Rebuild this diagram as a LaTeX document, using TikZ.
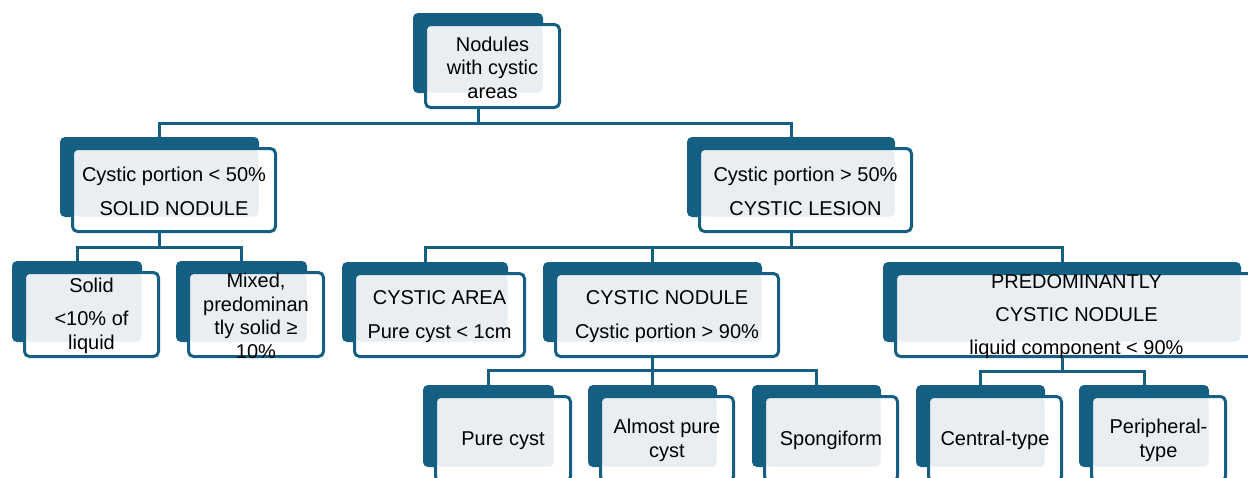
\documentclass[tikz,border=0pt]{standalone}
\usepackage{fontspec}
\setmainfont{Liberation Sans}
\usetikzlibrary{calc}
\definecolor{teal1}{HTML}{156082}
\definecolor{tint1}{HTML}{E8EEF2}
\tikzset{
  backbox/.style={fill=teal1, rounded corners=2.5pt, inner sep=0pt},
  frontbox/.style={draw=teal1, line width=1.5pt, fill=white, rounded corners=2.5pt, inner sep=0pt,
    path picture={\fill[tint1, rounded corners=2pt] ([shift={(0.5pt,-0.5pt)}]path picture bounding box.north west) rectangle ([shift={(-8.5pt,7.5pt)}]path picture bounding box.south east);}},
  boxtext/.style={align=center, inner sep=0pt, yshift=-0.75pt, font=\fontsize{10pt}{11.75pt}\selectfont},
  link/.style={draw=teal1, line width=1.5pt}
}
% back block, framed front block, text
\def\tealbox(#1)(#2,#3)(#4,#5)#6{%
  \node[backbox, minimum width=#4*0.5pt, minimum height=#5*0.5pt] (#1B) at (#2,#3) {};
  \node[frontbox, minimum width=#4*0.5pt+2pt, minimum height=#5*0.5pt+1.5pt] (#1) at ($(#1B)+(14.5,13)$) {};
  \node[boxtext] (#1T) at (#1) {#6};
}

\begin{document}
\begin{tikzpicture}[x=0.5pt, y=-0.5pt]
		\useasboundingbox (0,0) rectangle (1248,477);
		%%%%% BOXES %%%%%
		\tealbox(root)(478,53)(130,80){Nodules\\with cystic\\areas}
		
		\tealbox(solidnod)(159.5,177)(199,80){Cystic portion < 50\%\\[5pt]SOLID NODULE}
		\tealbox(cysticles)(791,177)(208,80){Cystic portion > 50\%\\[5pt]CYSTIC LESION}
		
		\tealbox(solid)(77,301.5)(130,81){Solid\\[4.75pt]<10\% of\\liquid}
		\tealbox(mixed)(241.5,301.5)(131,81){Mixed,\\predominan\\tly solid ≥\\10\%}
		\tealbox(area)(425,302)(166,80){CYSTIC AREA\\[5pt]Pure cyst < 1cm}
		\tealbox(cnod)(652.5,302)(219,80){CYSTIC NODULE\\[5pt]Cystic portion > 90\%}
		\tealbox(pcnod)(1062,302)(358,80){PREDOMINANTLY\\[4.75pt]CYSTIC NODULE\\[4.5pt]liquid component < 90\%}
		
		\tealbox(pure)(488.5,426)(131,82){Pure cyst}
		\tealbox(almost)(652.5,426)(129,82){Almost pure\\cyst}
		\tealbox(spongi)(816.5,426)(129,82){Spongiform}
		\tealbox(central)(980.5,426)(129,82){Central-type}
		\tealbox(periph)(1144,426)(130,82){Peripheral-\\type}
		
		%%%%% LINKS %%%%%
		\draw[link] (rootB |- root.south) -- ++(0,14.5) -| (solidnodB.north);
		\draw[link] (rootB |- root.south) -- ++(0,14.5) -| (cysticlesB.north);
		
		\draw[link] (solidnodB |- solidnod.south) -- ++(0,14) -| (solidB.north);
		\draw[link] (solidnodB |- solidnod.south) -- ++(0,14) -| (mixedB.north);
		
		\draw[link] (cysticlesB |- cysticles.south) -- ++(0,14) -| (areaB.north);
		\draw[link] (cysticlesB |- cysticles.south) -- ++(0,14) -| (cnodB.north);
		\draw[link] (cysticlesB |- cysticles.south) -- ++(0,14) -| (pcnodB.north);
		
		\draw[link] (cnodB |- cnod.south) -- ++(0,12) -| (pureB.north);
		\draw[link] (cnodB |- cnod.south) -- ++(0,12) -| (almostB.north);
		\draw[link] (cnodB |- cnod.south) -- ++(0,12) -| (spongiB.north);
		
		\draw[link] (pcnodB |- pcnod.south) -- ++(0,13) -| (centralB.north);
		\draw[link] (pcnodB |- pcnod.south) -- ++(0,13) -| (periphB.north);
	\end{tikzpicture}
\end{document}
